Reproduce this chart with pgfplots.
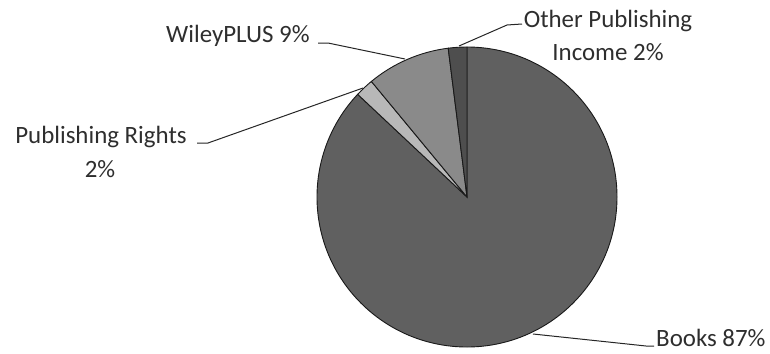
\documentclass[border=0pt]{standalone}
\usepackage{pgfplots}
\usepackage{pgfplotstable}
\pgfplotsset{compat=1.18}
\usepackage{fontspec}
\setmainfont{Carlito}
\definecolor{booksc}{HTML}{606060}
\definecolor{rightsc}{HTML}{B8B8B8}
\definecolor{wileyc}{HTML}{8A8A8A}
\definecolor{otherc}{HTML}{4E4E4E}
\definecolor{txt}{HTML}{2E2E2E}
\pgfplotstableread{
value color
87 booksc
2 rightsc
9 wileyc
2 otherc
}\piedata
\begin{document}
\begin{tikzpicture}
\begin{axis}[x=1bp,y=1bp,xmin=0,xmax=770,ymin=0,ymax=353,
  hide axis,clip=false,scale only axis]
\path (axis cs:0,0) rectangle (axis cs:770,353);
\gdef\curang{90}
\pgfplotsinvokeforeach{0,1,2,3}{%
  \pgfplotstablegetelem{#1}{value}\of\piedata \let\v\pgfplotsretval
  \pgfplotstablegetelem{#1}{color}\of\piedata \let\c\pgfplotsretval
  \pgfmathsetmacro\endang{\curang-3.6*\v}%
  \edef\temp{\noexpand\filldraw[fill=\c,draw=black!90,line width=0.9bp] (axis cs:467,156) -- ++(\curang:150bp) arc[start angle=\curang,end angle=\endang,radius=150bp] -- cycle;}%
  \temp
  \xdef\curang{\endang}%
}
% leader lines
\addplot[black!85,line width=1bp,no marks] coordinates {(522,329) (507,328) (459,307)};
\addplot[black!85,line width=1bp,no marks] coordinates {(318,310) (328,310) (405,294)};
\addplot[black!85,line width=1bp,no marks] coordinates {(197,210) (208,210) (363,265)};
\addplot[black!85,line width=1bp,no marks] coordinates {(533,19) (646,7) (654,7)};
% labels
\begin{scope}[every node/.style={font=\fontsize{25}{30}\selectfont,text=txt,inner sep=0pt}]
\node[anchor=base] at (axis cs:608,326) {Other Publishing};
\node[anchor=base] at (axis cs:608,293) {Income 2\%};
\node[anchor=base west] at (axis cs:166,311) {WileyPLUS 9\%};
\node[anchor=base] at (axis cs:101,210) {Publishing Rights};
\node[anchor=base] at (axis cs:100,176) {2\%};
\node[anchor=base west] at (axis cs:656,7) {Books 87\%};
\end{scope}
\end{axis}
\end{tikzpicture}
\end{document}
